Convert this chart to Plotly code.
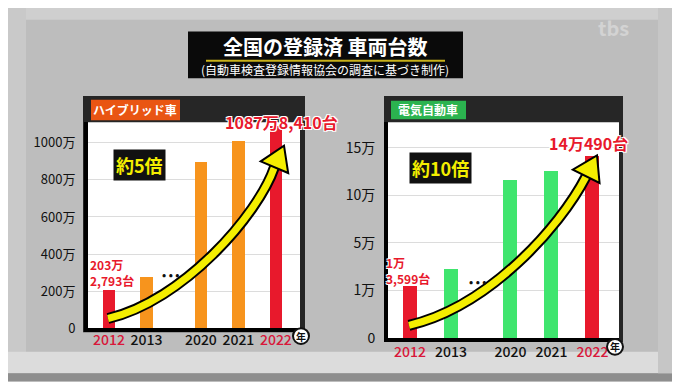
import numpy as np
import plotly.graph_objects as go

# ---------------- data ----------------
years = ["2012", "2013", "2020", "2021", "2022"]
hybrid_values = [2032793, 2770000, 8940000, 10100000, 10878410]
ev_values = [13599, 28000, 116000, 125000, 140490]
hybrid_ticks = [0, 2000000, 4000000, 6000000, 8000000, 10000000]
hybrid_ticktext = ["0", "200万", "400万", "600万", "800万", "1000万"]
ev_ticks = [0, 10000, 50000, 100000, 150000]
ev_ticktext = ["0", "1万", "5万", "10万", "15万"]

W, H = 680, 382
RED = "#e8192c"
ORANGE = "#f7941d"
GREEN = "#3fe56e"
FONT = "Noto Sans CJK JP"

def X(x):
    return x / W

def Y(y):
    return 1 - y / H

# bar positions: gap after 2013 (the "..." break)
GAP = 1.45
xpos = [0, 1, 1 + GAP, 2 + GAP, 3 + GAP]

# EV axis is a broken axis: ticks equally spaced
ev_pos = np.interp(ev_values, ev_ticks, np.arange(len(ev_ticks)))

hyb_colors = [RED, ORANGE, ORANGE, ORANGE, RED]
ev_colors = [RED, GREEN, GREEN, GREEN, RED]

def year_text(c):
    out = []
    for y, col in zip(years, c):
        color = "#d8173a" if col == RED else "#111111"
        out.append(f'<span style="color:{color}">{y}</span>')
    return out

fig = go.Figure()
fig.add_trace(go.Bar(x=xpos, y=hybrid_values, marker=dict(color=hyb_colors, line=dict(width=0)),
                     width=0.34, xaxis="x", yaxis="y", showlegend=False))
fig.add_trace(go.Bar(x=xpos, y=ev_pos, marker=dict(color=ev_colors, line=dict(width=0)),
                     width=0.34, xaxis="x2", yaxis="y2", showlegend=False))

# plot area geometry (pixels)
h_left, h_right, h_top, h_bot = 80, 292, 117, 328
e_left, e_right, e_top, e_bot = 380, 611, 117, 338
h_unit = 37.5
e_unit = 41.0
h_x0 = 101
e_x0 = 402
ev_px_per_tick = 48.75

axis_common = dict(showline=True, linecolor="black", linewidth=4, zeroline=False,
                   ticks="", fixedrange=True)

fig.update_layout(
    width=W, height=H, margin=dict(l=0, r=0, t=0, b=0),
    paper_bgcolor="#bdbdbd", plot_bgcolor="rgba(0,0,0,0)",
    font=dict(family=FONT, color="#111111"),
    bargap=0,
    xaxis=dict(domain=[X(h_left), X(h_right)],
               range=[(h_left - h_x0) / h_unit, (h_right - h_x0) / h_unit],
               tickvals=xpos, ticktext=year_text(hyb_colors),
               tickfont=dict(size=14, family=FONT, weight=500), ticklabelstandoff=-4,
               showgrid=False, anchor="y", **axis_common),
    yaxis=dict(domain=[Y(h_bot), Y(h_top)],
               range=[0, (h_bot - h_top) / 190 * 10000000],
               tickvals=hybrid_ticks, ticktext=hybrid_ticktext,
               tickfont=dict(size=13, family=FONT, color="#111111"), ticklabelstandoff=6,
               showgrid=True, gridcolor="#dcdcdc", gridwidth=1, anchor="x", **axis_common),
    xaxis2=dict(domain=[X(e_left), X(e_right)],
                range=[(e_left - e_x0) / e_unit, (e_right - e_x0) / e_unit],
                tickvals=xpos, ticktext=year_text(ev_colors),
                tickfont=dict(size=14, family=FONT, weight=500), ticklabelstandoff=-2,
                showgrid=False, anchor="y2", **axis_common),
    yaxis2=dict(domain=[Y(e_bot), Y(e_top)],
                range=[0, (e_bot - e_top) / ev_px_per_tick],
                tickvals=list(range(len(ev_ticks))), ticktext=ev_ticktext,
                tickfont=dict(size=14, family=FONT, color="#111111"), ticklabelstandoff=6,
                showgrid=True, gridcolor="#dcdcdc", gridwidth=1, anchor="x2", **axis_common),
)

shapes = []

def rect(x0, y0, x1, y1, color, layer="below", line=None):
    shapes.append(dict(type="rect", xref="paper", yref="paper",
                       x0=X(x0), x1=X(x1), y0=Y(y1), y1=Y(y0),
                       fillcolor=color, line=line or dict(width=0), layer=layer))

# background bands
rect(0, 0, W, 12, "#cfcfcf")
rect(0, 0, 18, 355, "#c9c9c9")
rect(0, 352, W, 374, "#dcdcdc")
rect(0, 374, W, H, "#8e8e8e")
rect(650, 0, W, 374, "#c6c6c6")

# panel frames
rect(75, 90, 297, 332, "#262626")
rect(h_left, h_top, h_right, h_bot, "white")
rect(376, 90, 615, 342, "#262626")
rect(e_left, e_top, e_right, e_bot, "white")

# header labels
rect(83, 94, 172, 115, "#e95513")
rect(383, 95, 458, 114, "#2bb34f")

# title box
rect(180, 24, 455, 72, "#0a0a0a")
shapes.append(dict(type="line", xref="paper", yref="paper", x0=X(198), x1=X(437),
                   y0=Y(54), y1=Y(54), line=dict(color="#c9b21a", width=2), layer="above"))

def pt(x, y):
    return f"{X(x):.5f},{Y(y):.5f}"

def arrow(p0, p1, p2, tip, d, head_len=24, half_w=15):
    d = np.array(d, float)
    d = d / np.linalg.norm(d)
    n = np.array([-d[1], d[0]])
    T = np.array(tip, float)
    B = T - head_len * d
    w1 = B + half_w * n
    w2 = B - half_w * n
    path = f"M {pt(*p0)} C {pt(*p1)} {pt(*p2)} {pt(*B)}"
    shapes.append(dict(type="path", xref="paper", yref="paper", path=path,
                       line=dict(color="black", width=11), layer="above"))
    shapes.append(dict(type="path", xref="paper", yref="paper", path=path,
                       line=dict(color="#f4ee00", width=7), layer="above"))
    head = f"M {pt(*T)} L {pt(*w1)} L {pt(*w2)} Z"
    shapes.append(dict(type="path", xref="paper", yref="paper", path=head,
                       fillcolor="#f4ee00", line=dict(color="black", width=2), layer="above"))

arrow((100, 318), (175, 300), (250, 212), (276, 141), (0.4, -0.92))
arrow((401, 325), (480, 306), (551, 226), (589, 151), (0.45, -0.89))

# circled 年 markers
for (xx, yy) in [(293, 336), (607, 347)]:
    shapes.append(dict(type="circle", xref="paper", yref="paper",
                       x0=X(xx - 8), x1=X(xx + 8), y0=Y(yy + 8), y1=Y(yy - 8),
                       fillcolor="white", line=dict(color="#111111", width=2), layer="above"))

fig.update_layout(shapes=shapes)

SHADOW = "1px 1px 0 #fff, -1px -1px 0 #fff, 1px -1px 0 #fff, -1px 1px 0 #fff"

ann = []

def text(x, y, s, size, color="#111111", xanchor="center", bg=None, shadow=None, weight="bold", pad=0, align="center"):
    f = dict(size=size, color=color, family=FONT, weight=weight)
    if shadow:
        f["shadow"] = shadow
    a = dict(x=X(x), y=Y(y), xref="paper", yref="paper", text=s, showarrow=False,
             font=f, xanchor=xanchor, yanchor="middle", borderpad=pad, align=align)
    if bg:
        a["bgcolor"] = bg
    ann.append(a)

# title
text(317, 39, "全国の登録済 車両台数", 20, color="white")
text(317, 63, "(自動車検査登録情報協会の調査に基づき制作)", 12, color="white", weight="normal")

# headers
text(127, 104, "ハイブリッド車", 12, color="white")
text(420, 104, "電気自動車", 12, color="white")

# multipliers
text(131, 161, "約5倍", 18, color="#f4ee00", bg="#111111", pad=2)
text(432, 164, "約10倍", 18, color="#f4ee00", bg="#111111", pad=2)

# value labels
text(273, 117, "1087万8,410台", 16, color=RED, shadow=SHADOW)
text(580, 138, "14万490台", 16, color=RED, shadow=SHADOW)
text(81, 271, "203万<br>2,793台", 12, color=RED, xanchor="left", shadow=SHADOW, align="left")
text(377, 269, "1万<br>3,599台", 12, color=RED, xanchor="left", shadow=SHADOW, align="left")

# ellipses
text(162, 272, "• • •", 11, color="#111111")
text(469, 280, "• • •", 11, color="#111111")

# 年 text
text(293, 336, "年", 10, color="#111111")
text(607, 347, "年", 10, color="#111111")

# faint watermark
text(605, 20, "tbs", 20, color="rgba(255,255,255,0.35)")

fig.update_layout(annotations=ann)
fig.write_html("out.html")
